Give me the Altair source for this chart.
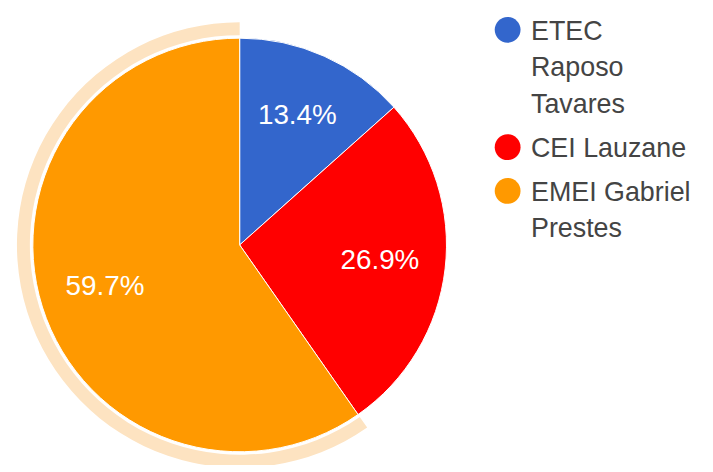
import altair as alt
import pandas as pd

categories = ["ETEC Raposo Tavares", "CEI Lauzane", "EMEI Gabriel Prestes"]
values = [13.4, 26.9, 59.7]
colors = ["#3366CC", "#FF0000", "#FF9900"]
legend_lines = [["ETEC", "Raposo", "Tavares"], ["CEI Lauzane"], ["EMEI Gabriel", "Prestes"]]
highlighted = "EMEI Gabriel Prestes"

df = pd.DataFrame({"category": categories, "value": values, "order": list(range(len(categories)))})

# build a labelExpr that wraps legend labels into lines
expr = "datum.label"
for cat, lines in zip(categories, legend_lines):
    arr = "[" + ",".join("'" + l + "'" for l in lines) + "]"
    expr = f"datum.label == '{cat}' ? {arr} : (" + expr + ")"

base = alt.Chart(df).encode(
    theta=alt.Theta("value:Q", stack=True),
    order=alt.Order("order:Q"),
)

ring = base.mark_arc(radius=224, radius2=211).encode(
    fill=alt.condition(alt.datum.category == highlighted, alt.value("#FDE3C1"), alt.value("transparent"))
)

pie = base.mark_arc(radius=208, stroke="white", strokeWidth=1).encode(
    color=alt.Color(
        "category:N",
        sort=categories,
        scale=alt.Scale(domain=categories, range=colors),
        legend=alt.Legend(
            title=None,
            orient="none",
            legendX=489,
            legendY=-21,
            padding=0,
            symbolType="M-1,0.86A1,1 0 1,1 1,0.86A1,1 0 1,1 -1,0.86Z",
            symbolSize=676,
            symbolStrokeWidth=0,
            labelFontSize=27,
            labelFont="Liberation Sans",
            labelColor="#444444",
            labelBaseline="top",
            labelLimit=300,
            labelOffset=10,
            rowPadding=4,
            labelExpr=expr,
        ),
    )
)

text = base.mark_text(radius=142, fontSize=28, font="Liberation Sans", color="white").encode(
    text="label:N"
).transform_calculate(label="format(datum.value, '.1f') + '%'")

chart = alt.layer(ring, pie, text).properties(
    width=466,
    height=440,
    padding={"left": 0, "top": 17, "right": 235, "bottom": 0},
    autosize=alt.AutoSizeParams(type="none"),
).configure_view(stroke=None).configure(
    style={"guide-label": {"lineHeight": 37}}
)

chart.save("out.html", embed_options={"renderer": "svg", "actions": False})
